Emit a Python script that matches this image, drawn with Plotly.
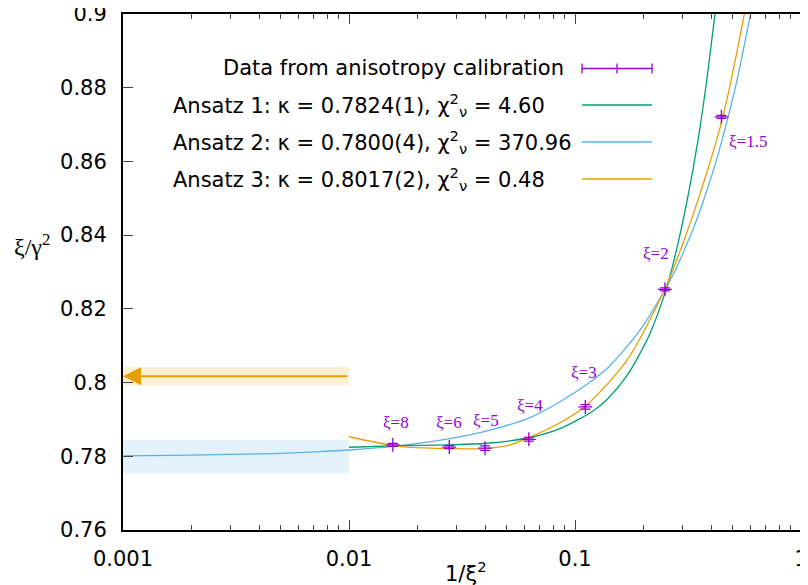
import numpy as np
import plotly.graph_objects as go

# measured points, x = 1/xi^2
xi_labels = ["ξ=8", "ξ=6", "ξ=5", "ξ=4", "ξ=3", "ξ=2", "ξ=1.5"]
data_x = [0.015625, 0.027778, 0.04, 0.0625, 0.111111, 0.25, 0.444444]
data_y = [0.7831, 0.7825, 0.7822, 0.7846, 0.7934, 0.8253, 0.8721]
data_err = [0.0004, 0.0004, 0.0006, 0.0005, 0.0006, 0.0004, 0.0004]

# label positions for the xi annotations
label_x = [0.01614, 0.02767, 0.04018, 0.0632, 0.1092, 0.228, 0.5826]
label_y = [0.7893, 0.7891, 0.7897, 0.7937, 0.8026, 0.8349, 0.8653]

# fit curves
fit1_x = [0.01, 0.01566, 0.02797, 0.04206, 0.06322, 0.08583, 0.1201, 0.14,
          0.1699, 0.19, 0.2147, 0.2553, 0.2828, 0.3131, 0.35, 0.38, 0.4025,
          0.4164, 0.4335]
fit1_y = [0.78245, 0.7828, 0.7831, 0.7836, 0.7851, 0.7875, 0.7923, 0.7957,
          0.8019, 0.8069, 0.8133, 0.8261, 0.8366, 0.8492, 0.8657, 0.8806, 0.8927,
          0.9, 0.9087]

fit2_x = [0.001, 0.002, 0.0035, 0.005, 0.007, 0.01, 0.01566, 0.02797, 0.04206,
          0.06322, 0.08583, 0.1201, 0.1387, 0.1699, 0.2, 0.2451, 0.28, 0.3067,
          0.33, 0.3684, 0.42, 0.4691, 0.52, 0.5654, 0.5988, 0.6355]
fit2_y = [0.7801, 0.7803, 0.7806, 0.7808, 0.7812, 0.7817, 0.7827, 0.7848, 0.7871,
          0.7905, 0.7948, 0.8007, 0.8038, 0.8098, 0.8154, 0.8243, 0.8309, 0.8364,
          0.8410, 0.8490, 0.8598, 0.8706, 0.8818, 0.8925, 0.9002, 0.9080]

fit3_x = [0.01, 0.01566, 0.01805, 0.02797, 0.03997, 0.05159, 0.06322, 0.08583,
          0.1107, 0.1699, 0.2502, 0.2975, 0.3501, 0.4485, 0.5333, 0.5613, 0.5918]
fit3_y = [0.7853, 0.7829, 0.7825, 0.7821, 0.7821, 0.7831, 0.7852, 0.7891,
          0.7935, 0.8061, 0.8254, 0.8371, 0.8495, 0.8714, 0.8929, 0.9, 0.9071]

# extrapolated kappa values and their bands
band_x = [0.001, 0.01]
kappa2_band = [0.7753, 0.7844]
kappa3 = 0.8017
kappa3_band = [0.7992, 0.8042]

legend_text = [
    "Data from anisotropy calibration",
    "Ansatz 1: κ = 0.7824(1), χ<sup>2</sup><sub>ν</sub> = 4.60",
    "Ansatz 2: κ = 0.7800(4), χ<sup>2</sup><sub>ν</sub> = 370.96",
    "Ansatz 3: κ = 0.8017(2), χ<sup>2</sup><sub>ν</sub> = 0.48",
]

PURPLE = "#9400D3"
GREEN = "#009E73"
BLUE = "#56B4E9"
ORANGE = "#E69F00"
SANS = "DejaVu Sans, sans-serif"
SERIF = "Liberation Serif, Times New Roman, serif"

fig = go.Figure()

# bands
fig.add_trace(go.Scatter(
    x=[band_x[0], band_x[1], band_x[1], band_x[0]],
    y=[kappa2_band[0], kappa2_band[0], kappa2_band[1], kappa2_band[1]],
    fill="toself", fillcolor="rgba(86,180,233,0.16)", line=dict(width=0),
    mode="lines", hoverinfo="skip"))
fig.add_trace(go.Scatter(
    x=[band_x[0], band_x[1], band_x[1], band_x[0]],
    y=[kappa3_band[0], kappa3_band[0], kappa3_band[1], kappa3_band[1]],
    fill="toself", fillcolor="rgba(230,159,0,0.16)", line=dict(width=0),
    mode="lines", hoverinfo="skip"))

# fits
fig.add_trace(go.Scatter(x=fit2_x, y=fit2_y, mode="lines",
                         line=dict(color=BLUE, width=1.3, shape="spline", smoothing=0.8)))
fig.add_trace(go.Scatter(x=fit1_x, y=fit1_y, mode="lines",
                         line=dict(color=GREEN, width=1.3, shape="spline", smoothing=0.8)))
fig.add_trace(go.Scatter(x=fit3_x, y=fit3_y, mode="lines",
                         line=dict(color=ORANGE, width=1.3, shape="spline", smoothing=0.8)))

# data
fig.add_trace(go.Scatter(
    x=data_x, y=data_y, mode="markers",
    marker=dict(symbol="cross-thin", size=10, line=dict(color=PURPLE, width=1.3)),
    error_y=dict(type="data", array=data_err, color=PURPLE, thickness=1.3, width=5)))

# xi labels
for t, lx, ly in zip(xi_labels, label_x, label_y):
    fig.add_annotation(x=np.log10(lx), y=ly, text=t, showarrow=False,
                       font=dict(family=SERIF, size=17, color=PURPLE))

# arrow to kappa3
fig.add_annotation(x=np.log10(band_x[0]), y=kappa3, ax=np.log10(band_x[1]), ay=kappa3,
                   xref="x", yref="y", axref="x", ayref="y", text="",
                   showarrow=True, arrowhead=2, arrowsize=1.8, arrowwidth=2,
                   arrowcolor=ORANGE)

# legend (gnuplot style: text then sample)
rows_y = [0.8944, 0.8236, 0.7519, 0.6802]
sample_x0, sample_x1 = 0.6701, 0.7723
fig.add_annotation(x=0.6467, y=rows_y[0], xref="paper", yref="paper",
                   text=legend_text[0], showarrow=False, xanchor="right",
                   yanchor="middle", font=dict(family=SANS, size=21, color="black"))
for i in [1, 2, 3]:
    fig.add_annotation(x=0.0701, y=rows_y[i], xref="paper", yref="paper",
                       text=legend_text[i], showarrow=False, xanchor="left",
                       yanchor="middle", font=dict(family=SANS, size=21, color="black"))
for i, c in zip([1, 2, 3], [GREEN, BLUE, ORANGE]):
    fig.add_shape(type="line", xref="paper", yref="paper",
                  x0=sample_x0, x1=sample_x1, y0=rows_y[i], y1=rows_y[i],
                  line=dict(color=c, width=1.3))
fig.add_shape(type="line", xref="paper", yref="paper",
              x0=sample_x0, x1=sample_x1, y0=rows_y[0], y1=rows_y[0],
              line=dict(color=PURPLE, width=1.3))
for sx in [sample_x0, (sample_x0 + sample_x1) / 2, sample_x1]:
    fig.add_shape(type="line", xref="paper", yref="paper",
                  x0=sx, x1=sx, y0=rows_y[0] - 0.0097, y1=rows_y[0] + 0.0097,
                  line=dict(color=PURPLE, width=1.3))

# axis titles
fig.add_annotation(x=-0.1036, y=0.5523, xref="paper", yref="paper",
                   text="ξ/γ<sup>2</sup>", showarrow=False, xanchor="right",
                   font=dict(family=SERIF, size=24, color="black"))
fig.add_annotation(x=0.5, y=-0.0814, xref="paper", yref="paper",
                   text="1/ξ<sup>2</sup>", showarrow=False, yanchor="middle",
                   font=dict(family=SANS, size=21, color="black"))

ytick_vals = [0.76, 0.78, 0.8, 0.82, 0.84, 0.86, 0.88, 0.9]
ytick_text = ["0.76", "0.78", "0.8", "0.82", "0.84", "0.86", "0.88", "0.9"]

fig.update_layout(
    width=800, height=577,
    margin=dict(l=115, r=0, t=6, b=55),
    plot_bgcolor="white", paper_bgcolor="white",
    showlegend=False,
    font=dict(family=SANS, size=21, color="black"),
    xaxis=dict(type="log", range=[-3, 0.031], showgrid=False, zeroline=False,
               automargin=False,
               showline=True, linecolor="black", linewidth=2, mirror="ticks",
               ticks="inside", ticklen=10, tickwidth=1, tickcolor="#444",
               ticklabelstandoff=9, ticklabeloverflow="allow",
               tickvals=[0.001, 0.01, 0.1, 1], ticktext=["0.001", "0.01", "0.1", "1"],
               minor=dict(ticks="inside", ticklen=5, tickwidth=1, tickcolor="#444",
                          dtick="D1", showgrid=False)),
    yaxis=dict(range=[0.76, 0.9], showgrid=False, zeroline=False,
               automargin=False,
               showline=True, linecolor="black", linewidth=2,
               ticks="inside", ticklen=10, tickwidth=1, tickcolor="#444",
               ticklabelstandoff=10, ticklabeloverflow="allow",
               tickvals=ytick_vals, ticktext=ytick_text),
    yaxis2=dict(range=[0.76, 0.9], overlaying="y", side="right",
                automargin=False,
                showgrid=False, zeroline=False, showline=False,
                ticks="inside", ticklen=10, tickwidth=1, tickcolor="#444",
                tickvals=ytick_vals, showticklabels=False),
)

fig.write_html("out.html")
